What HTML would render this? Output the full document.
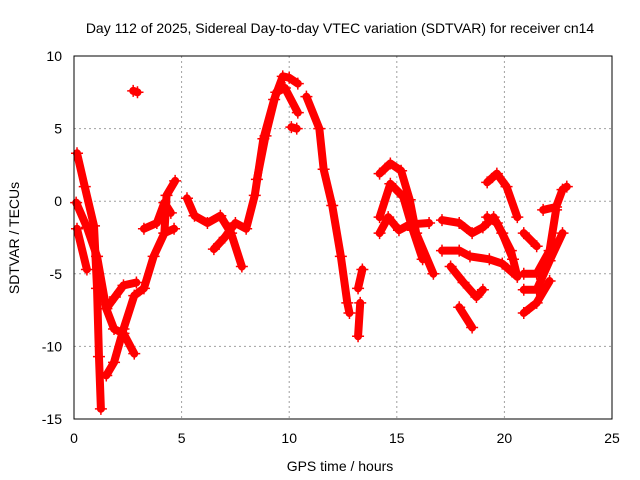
<!DOCTYPE html>
<html><head><meta charset="utf-8"><style>
body{margin:0;background:#fff}
svg{display:block;font-family:"Liberation Sans",sans-serif}
</style></head><body>
<svg id="chart" width="640" height="480">
<text x="340" y="33" font-size="14" text-anchor="middle">Day 112 of 2025, Sidereal Day-to-day VTEC variation (SDTVAR) for receiver cn14</text>
<text x="340" y="471" font-size="14" text-anchor="middle">GPS time / hours</text>
<text transform="translate(19,238) rotate(-90)" font-size="14" text-anchor="middle">SDTVAR / TECUs</text>
<g id="grid"></g>
<g id="marks"></g>
<rect x="74" y="56" width="538" height="363" fill="none" stroke="#000" stroke-width="1"/>
</svg>
<script>
const xTicks=[0,5,10,15,20,25];
const yTicks=[-15,-10,-5,0,5,10];
const tracks=[
[[0.14,3.3],[0.5,1.0],[0.93,-1.7],[1.07,-6],[1.16,-10.7],[1.25,-14.3]],
[[0.1,-0.1],[0.6,-1.8],[1.07,-3.8],[1.5,-7.4],[1.86,-8.8],[2.3,-9.1],[2.8,-10.5]],
[[1.5,-7.4],[1.9,-6.6],[2.3,-5.8],[2.9,-5.6]],
[[0.14,-1.9],[0.6,-4.7]],
[[1.5,-12],[1.86,-11.1],[2.3,-8.8],[2.8,-6.5],[3.25,-6],[3.7,-3.8],[4.2,-2.2],[4.65,-1.9]],
[[4.2,-2.2],[4.3,0.4],[4.7,1.4]],
[[3.25,-1.9],[3.85,-1.5],[4.2,-0.1],[4.5,-0.8]],
[[5.25,0.2],[5.6,-1],[6.2,-1.5],[6.8,-1],[7.3,-2.2],[7.8,-4.5]],
[[6.5,-3.3],[7.0,-2.5],[7.5,-1.5],[8.0,-1.9],[8.4,0.4],[8.8,4.3],[9.3,7.0],[9.7,8.6],[10.0,8.5],[10.4,8.1]],
[[8.5,1.5],[8.9,4.5],[9.4,7.5],[9.8,7.8],[10.4,6.1]],
[[10.8,7.2],[11.4,5],[11.6,2.2],[12.0,-0.3],[12.4,-3.8],[12.7,-7],[12.8,-7.7]],
[[13.4,-4.7],[13.2,-6]],[[13.3,-7],[13.2,-9.3]],
[[14.2,1.9],[14.7,2.6],[15.2,2.1],[15.6,0.1],[15.9,-2.2],[16.7,-5.0]],
[[14.2,-1.1],[14.7,1.2],[15.3,0.3],[15.75,-2],[16.2,-4]],
[[14.2,-2.2],[14.6,-1.1],[15.1,-2],[15.6,-1.6],[16.5,-1.5]],
[[17.1,-1.3],[17.9,-1.5],[18.5,-2.2],[19,-1.8],[19.5,-1.1],[19.9,-2.2],[20.4,-4]],
[[17.1,-3.4],[17.9,-3.4],[18.4,-3.8],[19.3,-4],[19.9,-4.3],[20.6,-5.2]],
[[17.5,-4.5],[18.1,-5.6],[18.7,-6.6],[19,-6.1]],
[[17.9,-7.3],[18.5,-8.7]],
[[19.2,1.3],[19.65,1.9],[20.1,1],[20.6,-1.1]],
[[19.2,-1.1],[19.65,-1.5],[20.3,-3.4],[20.6,-5.2]],
[[20.9,-2.2],[21.5,-3.1]],
[[20.9,-5],[21.5,-5],[22.1,-3.4],[22.4,-0.6]],
[[20.9,-6.1],[21.5,-6.1],[22.1,-4.1],[22.7,-2.2]],
[[20.9,-7.7],[21.5,-7],[22.1,-5.5]],
[[21.8,-0.6],[22.4,-0.4],[22.7,0.8],[22.9,1]],
[[2.75,7.6],[2.95,7.5]],[[10.1,5.1],[10.35,5.0]]
];
const X=t=>74+t*538/25, Y=v=>56+(10-v)*363/25;
const NS="http://www.w3.org/2000/svg";
const grid=document.getElementById('grid'), marks=document.getElementById('marks');
xTicks.forEach(t=>{
 const x=X(t);
 if(t>0&&t<25){const l=document.createElementNS(NS,'line');
 l.setAttribute('x1',x);l.setAttribute('x2',x);l.setAttribute('y1',56);l.setAttribute('y2',419);
 l.setAttribute('stroke','#a0a0a0');l.setAttribute('stroke-dasharray','2,3');
 
 grid.appendChild(l);}
 const s=document.createElementNS(NS,'text');s.setAttribute('x',x);s.setAttribute('y',443);
 s.setAttribute('font-size','14');s.setAttribute('text-anchor','middle');s.textContent=t;
 
 grid.appendChild(s);
});
yTicks.forEach(v=>{
 const y=Y(v);
 if(v>-15&&v<10){const l=document.createElementNS(NS,'line');
 l.setAttribute('x1',74);l.setAttribute('x2',612);l.setAttribute('y1',y);l.setAttribute('y2',y);
 l.setAttribute('stroke','#a0a0a0');l.setAttribute('stroke-dasharray','2,3');
 
 grid.appendChild(l);}
 const s=document.createElementNS(NS,'text');s.setAttribute('x',62);s.setAttribute('y',y+5);
 s.setAttribute('font-size','14');s.setAttribute('text-anchor','end');s.textContent=v;
 
 grid.appendChild(s);
});
tracks.forEach(tr=>{
 const p=document.createElementNS(NS,'polyline');
 p.setAttribute('points',tr.map(d=>X(d[0])+','+Y(d[1])).join(' '));
 p.setAttribute('fill','none');p.setAttribute('stroke','#ff0000');p.setAttribute('stroke-width','8');
 p.setAttribute('stroke-linejoin','round');p.setAttribute('stroke-linecap','round');
 
 marks.appendChild(p);
 tr.forEach(d=>{
  const m=document.createElementNS(NS,'path');const x=X(d[0]),y=Y(d[1]);
  m.setAttribute('d',`M${x-6},${y}H${x+6}M${x},${y-6}V${y+6}`);
  m.setAttribute('stroke','#ff0000');m.setAttribute('stroke-width','1.5');
  
  marks.appendChild(m);
 });
});
</script>
</body></html>
